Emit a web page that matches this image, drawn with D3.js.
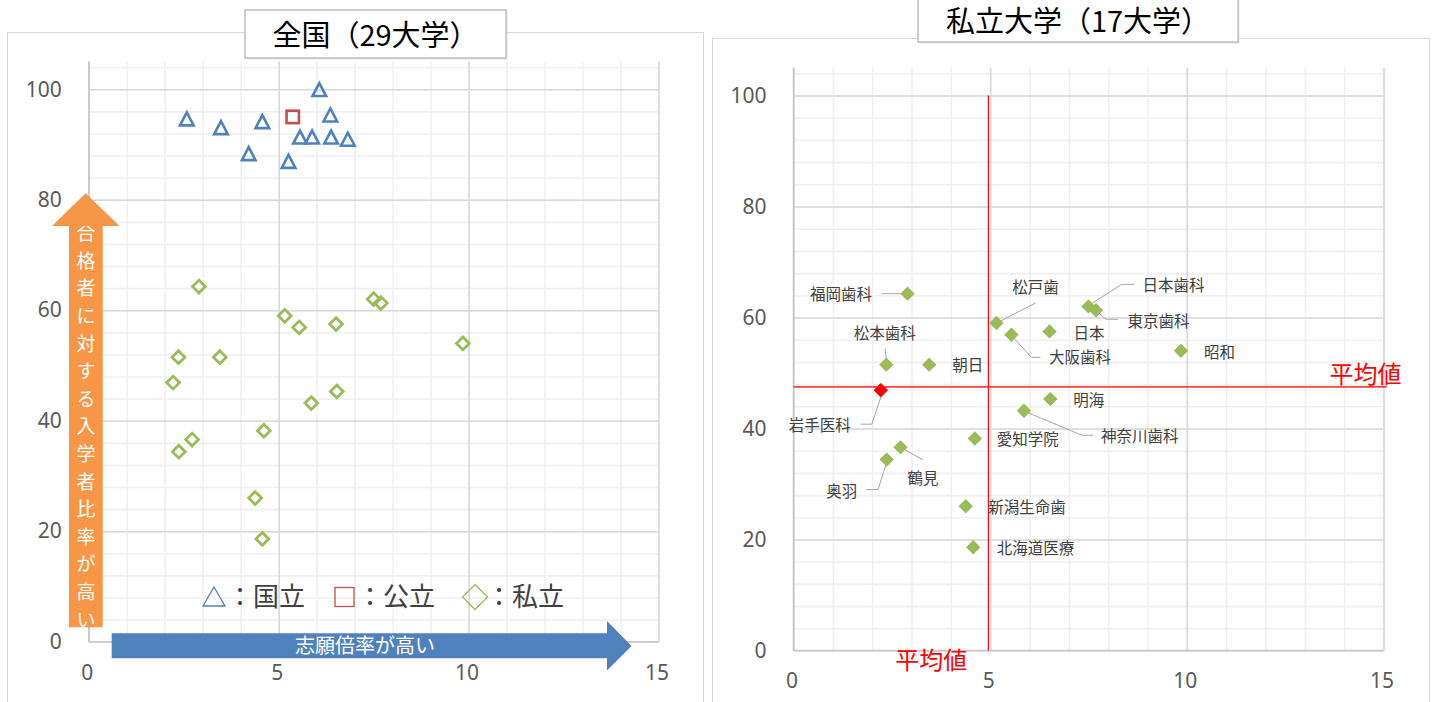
<!DOCTYPE html>
<html><head><meta charset="utf-8">
<script src="https://cdn.jsdelivr.net/npm/d3@7"></script>
<style>
body{margin:0;background:#fff}
svg{display:block}
text{font-family:"Noto Sans CJK JP","Noto Sans",sans-serif}
</style>
</head><body>
<svg id="c" width="1437" height="702"></svg>
<script>
// ---------------- DATA ----------------
const nationalX = [2.58, 3.48, 4.57, 4.21, 5.26, 5.56, 5.88, 6.36, 6.38, 6.82, 6.07];
const nationalY = [94.6, 93.0, 94.1, 88.3, 86.9, 91.3, 91.3, 95.3, 91.3, 90.9, 99.9];
const publicX = [5.37];
const publicY = [95.0];
const privateNames = ["福岡歯科","日本歯科","東京歯科","松戸歯","大阪歯科","日本","昭和","松本歯科","朝日","岩手医科","明海","神奈川歯科","愛知学院","鶴見","奥羽","新潟生命歯","北海道医療"];
const privateX = [2.90, 7.50, 7.69, 5.16, 5.54, 6.51, 9.85, 2.36, 3.45, 2.22, 6.53, 5.86, 4.61, 2.72, 2.37, 4.38, 4.57];
const privateY = [64.3, 62.0, 61.3, 59.0, 56.9, 57.5, 54.0, 51.5, 51.5, 46.9, 45.3, 43.2, 38.2, 36.6, 34.4, 26.0, 18.6];
const highlighted = ["岩手医科"];
const xTicks = [0, 5, 10, 15];
const yTicks = [0, 20, 40, 60, 80, 100];
const xDomain = [0, 15];
const yDomain = [0, 105];
const xMinorStep = 1;
const yMinorStep = 4;
const leftTitle = "全国（29大学）";
const rightTitle = "私立大学（17大学）";
const legendLabels = ["：国立", "：公立", "：私立"];
const yArrowText = "合格者に対する入学者比率が高い";
const xArrowText = "志願倍率が高い";
const avgLabel = "平均値";

// ---------------- LAYOUT (label placement, px offsets from point) ----------------
const labelLayout = {
  "福岡歯科":  {dx:-35.5, dy:1,    anchor:"end",    leader:[[-26,0],[-6,0]]},
  "日本歯科":  {dx:54,    dy:-21,  anchor:"start",  leader:[[2,-2],[33,-22],[46,-22]]},
  "東京歯科":  {dx:31.5,  dy:11,   anchor:"start",  leader:[[3,3],[10,9],[22,9]]},
  "松戸歯":    {dx:39,    dy:-36,  anchor:"middle", leader:[[4,-2],[39,-20]]},
  "大阪歯科":  {dx:37.5,  dy:23,   anchor:"start",  leader:[[2,3],[20,22.7],[29,22.7]]},
  "日本":      {dx:24,    dy:2,    anchor:"start"},
  "昭和":      {dx:23,    dy:2,    anchor:"start"},
  "松本歯科":  {dx:-1.5,  dy:-31,  anchor:"middle", leader:[[-1.3,-16],[0,-6]]},
  "朝日":      {dx:23,    dy:1,    anchor:"start"},
  "岩手医科":  {dx:-30,   dy:35.5, anchor:"end",    leader:[[0,7],[-9,34],[-20,34]]},
  "明海":      {dx:23,    dy:1,    anchor:"start"},
  "神奈川歯科":{dx:77,    dy:26,   anchor:"start",  leader:[[4,2],[58,24.5],[69,24.5]]},
  "愛知学院":  {dx:22,    dy:1,    anchor:"start"},
  "鶴見":      {dx:22.5,  dy:31.5, anchor:"middle", leader:[[2,1],[22.5,12.5]]},
  "奥羽":      {dx:-29.5, dy:31.5, anchor:"end",    leader:[[-0.7,5],[-8.7,30],[-20.7,30]]},
  "新潟生命歯":{dx:22.5,  dy:1,    anchor:"start"},
  "北海道医療":{dx:23.5,  dy:1.3,  anchor:"start"}
};

const C = {
  blue:"#4F81BD", red:"#C0504D", green:"#9BBB59", orange:"#F79646",
  major:"#D9D9D9", minor:"#F0F0F0", axis:"#C8C8C8", tick:"#595959", label:"#404040"
};

const svg = d3.select("#c");

// outer chart frames
svg.append("rect").attr("x",7.5).attr("y",32.5).attr("width",696).attr("height",700)
  .attr("fill","#fff").attr("stroke","#D9D9D9");
svg.append("rect").attr("x",712.5).attr("y",38.5).attr("width",717).attr("height",700)
  .attr("fill","#fff").attr("stroke","#D9D9D9");

function frame(x, y, yPad, xPad) {
  const g = svg.append("g");
  const [xa, xb] = x.range(), [ya, yb] = y.range();
  g.append("g").attr("transform",`translate(0,${ya})`)
    .call(d3.axisBottom(x).tickValues(d3.range(xDomain[0], xDomain[1] + 0.001, xMinorStep)).tickSize(-(ya - yb)).tickFormat(""))
    .call(s => { s.select(".domain").remove(); s.selectAll("line").attr("stroke",C.minor).attr("stroke-width",1.6); });
  g.append("g").attr("transform",`translate(${xa},0)`)
    .call(d3.axisLeft(y).tickValues(d3.range(yDomain[0], yDomain[1], yMinorStep)).tickSize(-(xb - xa)).tickFormat(""))
    .call(s => { s.select(".domain").remove(); s.selectAll("line").attr("stroke",C.minor).attr("stroke-width",1.6); });
  g.append("g").attr("transform",`translate(0,${ya})`)
    .call(d3.axisBottom(x).tickValues(xTicks).tickSize(-(ya - yb)).tickFormat(""))
    .call(s => { s.select(".domain").remove(); s.selectAll("line").attr("stroke",C.major).attr("stroke-width",1.6); });
  g.append("g").attr("transform",`translate(${xa},0)`)
    .call(d3.axisLeft(y).tickValues(yTicks).tickSize(-(xb - xa)).tickFormat(""))
    .call(s => { s.select(".domain").remove(); s.selectAll("line").attr("stroke",C.major).attr("stroke-width",1.6); });
  g.append("line").attr("x1",xa).attr("x2",xa).attr("y1",ya).attr("y2",yb).attr("stroke",C.axis).attr("stroke-width",1.6);
  g.append("line").attr("x1",xa).attr("x2",xb).attr("y1",ya).attr("y2",ya).attr("stroke",C.axis).attr("stroke-width",1.6);
  g.append("g").attr("transform",`translate(${xa},0)`)
    .call(d3.axisLeft(y).tickValues(yTicks).tickSize(0).tickPadding(yPad))
    .call(s => { s.select(".domain").remove(); s.selectAll("text").attr("fill",C.tick).style("font-family","'Noto Sans',sans-serif").style("font-size","21px"); });
  g.append("g").attr("transform",`translate(-2,${ya})`)
    .call(d3.axisBottom(x).tickValues(xTicks).tickSize(0).tickPadding(xPad))
    .call(s => { s.select(".domain").remove(); s.selectAll("text").attr("fill",C.tick).style("font-family","'Noto Sans',sans-serif").style("font-size","21px"); });
  return g;
}

function titleBox(x, y, w, h, cy, txt) {
  svg.append("rect").attr("x",x+1.5).attr("y",y+1.5).attr("width",w).attr("height",h).attr("fill","#E4E4E4");
  svg.append("rect").attr("x",x).attr("y",y).attr("width",w).attr("height",h)
    .attr("fill","#fff").attr("stroke","#BFBFBF").attr("stroke-width",1.5);
  svg.append("text").attr("x",x + w/2).attr("y",cy + 0.36*29).attr("text-anchor","middle")
    .attr("fill","#000").style("font-size","29px").text(txt);
}

// ================= LEFT CHART =================
const xL = d3.scaleLinear(xDomain, [88.8, 658.5]);
const yL = d3.scaleLinear(yDomain, [641.7, 641.7 - 105 * 5.524]);
frame(xL, yL, 27, 23);

const lg = svg.append("g").attr("transform","translate(0,597)");
lg.append("path").attr("d","M214,-10L225,9L203,9Z").attr("fill","none").attr("stroke",C.blue).attr("stroke-width",1.3);
lg.append("rect").attr("x",335).attr("y",-9.5).attr("width",19).attr("height",19).attr("fill","none").attr("stroke",C.red).attr("stroke-width",1.3);
lg.append("path").attr("d","M475,-12.5L487.5,0L475,12.5L462.5,0Z").attr("fill","none").attr("stroke",C.green).attr("stroke-width",1.3);
[227, 357, 486].forEach((lx, i) => {
  lg.append("text").attr("x",lx).attr("y",0.36*26).attr("fill",C.label).style("font-size","26px").text(legendLabels[i]);
});

svg.append("g").selectAll("path").data(d3.zip(nationalX, nationalY)).join("path")
  .attr("transform", d => `translate(${xL(d[0])},${yL(d[1])})`)
  .attr("d","M0,-6.8L6.8,6.2L-6.8,6.2Z")
  .attr("fill","none").attr("stroke",C.blue).attr("stroke-width",2.6);
svg.append("g").selectAll("rect").data(d3.zip(publicX, publicY)).join("rect")
  .attr("x", d => xL(d[0]) - 6.2).attr("y", d => yL(d[1]) - 6.2).attr("width",12.4).attr("height",12.4)
  .attr("fill","none").attr("stroke",C.red).attr("stroke-width",2.6);
svg.append("g").selectAll("path").data(d3.zip(privateX, privateY)).join("path")
  .attr("transform", d => `translate(${xL(d[0])},${yL(d[1])})`)
  .attr("d","M0,-6.4L6.4,0L0,6.4L-6.4,0Z")
  .attr("fill","none").attr("stroke",C.green).attr("stroke-width",2.8);

// orange up arrow
svg.append("path").attr("d","M69,627.3L69,226L52,226L85.7,193.3L119.5,226L102.7,226L102.7,627.3Z").attr("fill",C.orange);
svg.append("clipPath").attr("id","shaft").append("rect").attr("x",69).attr("y",226).attr("width",33.7).attr("height",401.3);
const va = svg.append("g").attr("clip-path","url(#shaft)");
Array.from(yArrowText).forEach((ch, i) => {
  va.append("text").attr("x",86).attr("y",233.3 + 27.6*i + 0.36*19).attr("text-anchor","middle")
    .attr("fill","#fff").style("font-size","19px").text(ch);
});

// blue right arrow
svg.append("path").attr("d","M111.7,633.3L607,633.3L607,621L631.5,646L607,670.5L607,658.3L111.7,658.3Z").attr("fill",C.blue);
svg.append("text").attr("x",365).attr("y",646 + 0.36*20).attr("text-anchor","middle")
  .attr("fill","#fff").style("font-size","20px").text(xArrowText);

titleBox(245, 10, 261, 48, 36, leftTitle);

// ================= RIGHT CHART =================
const xR = d3.scaleLinear(xDomain, [793.5, 1383.5]);
const yR = d3.scaleLinear(yDomain, [650.5, 650.5 - 105 * 5.55]);
frame(xR, yR, 27, 23);

const avgX = d3.mean(privateX);
const avgY = d3.mean(privateY);

svg.append("line").attr("x1",xR(avgX)).attr("x2",xR(avgX)).attr("y1",yR(0)).attr("y2",yR(100))
  .attr("stroke","#FF0000").attr("stroke-width",1.2);
svg.append("line").attr("x1",xR(0)).attr("x2",xR(15) + 3).attr("y1",yR(avgY)).attr("y2",yR(avgY))
  .attr("stroke","#FF0000").attr("stroke-opacity",0.75).attr("stroke-width",1.8);
svg.append("text").attr("x",xR(15) + 18).attr("y",yR(avgY) - 13 + 0.36*24).attr("text-anchor","end")
  .attr("fill","#FF0000").style("font-size","24px").text(avgLabel);
svg.append("text").attr("x",xR(avgX) - 21).attr("y",660 + 0.36*24).attr("text-anchor","end")
  .attr("fill","#FF0000").style("font-size","24px").text(avgLabel);

const pts = privateNames.map((n, i) => ({name:n, px:xR(privateX[i]), py:yR(privateY[i])}));
const lab = svg.append("g");
pts.forEach(p => {
  const L = labelLayout[p.name];
  if (L.leader) {
    lab.append("path").attr("d", d3.line()(L.leader.map(o => [p.px + o[0], p.py + o[1]])))
      .attr("fill","none").attr("stroke","#A6A6A6").attr("stroke-width",1);
  }
  lab.append("text").attr("x", p.px + L.dx).attr("y", p.py + L.dy + 0.36*15.5)
    .attr("text-anchor", L.anchor).attr("fill",C.label).style("font-size","15.5px").text(p.name);
});

svg.append("g").selectAll("path").data(pts).join("path")
  .attr("transform", d => `translate(${d.px},${d.py})`)
  .attr("d","M0,-7.2L7.2,0L0,7.2L-7.2,0Z")
  .attr("fill", d => highlighted.includes(d.name) ? "#FF0000" : C.green);

titleBox(918, -2, 320, 44, 22, rightTitle);
</script>
</body></html>
